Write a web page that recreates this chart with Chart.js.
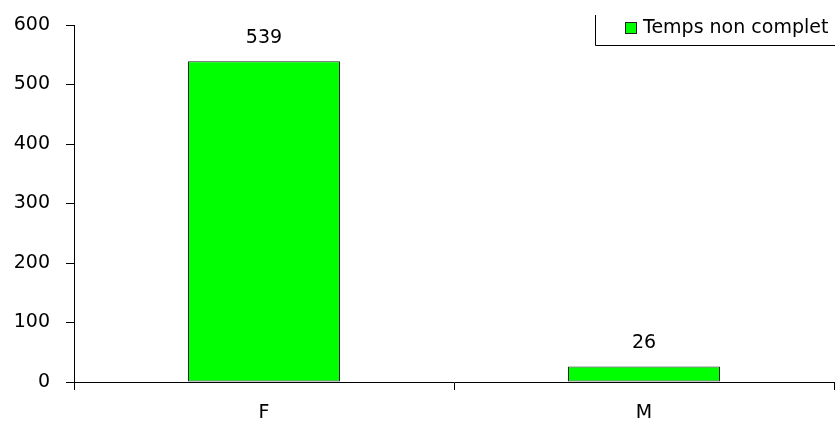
<!DOCTYPE html>
<html>
<head>
<meta charset="utf-8">
<script src="https://cdn.jsdelivr.net/npm/chart.js@4"></script>
<style>
  body { margin: 0; background: #fff; }
  canvas { display: block; }
</style>
</head>
<body>
<canvas id="chart" width="835" height="421"></canvas>
<script>
const categories = ["F", "M"];
const seriesName = "Temps non complet";
const seriesValues = [539, 26];
const yTicks = [0, 100, 200, 300, 400, 500, 600];

const fontFamily = "'DejaVu Sans', Verdana, sans-serif";

// value labels above each bar
const valueLabels = {
    id: "valueLabels",
    afterDatasetsDraw(chart) {
        const ctx = chart.ctx;
        const meta = chart.getDatasetMeta(0);
        ctx.save();
        ctx.fillStyle = "#000";
        ctx.font = "19px " + fontFamily;
        ctx.textAlign = "center";
        ctx.textBaseline = "middle";
        meta.data.forEach((bar, i) => {
            ctx.fillText(String(seriesValues[i]), bar.x, bar.y - 23);
        });
        ctx.restore();
    }
};

// legend box, clipped at the top right like the original
const boxLegend = {
    id: "boxLegend",
    afterDraw(chart) {
        const ctx = chart.ctx;
        const ds = chart.data.datasets[0];
        ctx.save();
        ctx.strokeStyle = "#000";
        ctx.lineWidth = 1;
        ctx.beginPath();
        ctx.moveTo(595.5, 15);
        ctx.lineTo(595.5, 45.5);
        ctx.lineTo(835, 45.5);
        ctx.stroke();
        ctx.fillStyle = ds.backgroundColor;
        ctx.fillRect(625, 22, 11, 11);
        ctx.strokeStyle = "#222";
        ctx.strokeRect(625.5, 22.5, 11, 11);
        ctx.fillStyle = "#000";
        ctx.font = "19px " + fontFamily;
        ctx.textAlign = "left";
        ctx.textBaseline = "middle";
        ctx.fillText(ds.label, 643, 28);
        ctx.restore();
    }
};

new Chart(document.getElementById("chart"), {
    type: "bar",
    data: {
        labels: categories,
        datasets: [{
            label: seriesName,
            data: seriesValues,
            backgroundColor: "#00ff00",
            borderColor: "#222",
            borderWidth: 1,
            borderSkipped: false,
            categoryPercentage: 0.4,
            barPercentage: 1
        }]
    },
    options: {
        responsive: false,
        animation: false,
        layout: { padding: { top: 25, right: 1, left: 0, bottom: 0 } },
        plugins: {
            legend: { display: false },
            tooltip: { enabled: false }
        },
        scales: {
            x: {
                afterFit: s => { s.height = 39; s.paddingLeft = 0; s.paddingRight = 0; },
                border: { color: "#000", width: 1 },
                grid: { drawOnChartArea: false, drawTicks: true, tickLength: 8, color: "#000", offset: true },
                ticks: { color: "#000", font: { family: fontFamily, size: 19 }, padding: 12 }
            },
            y: {
                min: 0,
                max: 600,
                afterFit: s => { s.width = 74; s.paddingTop = 0; s.paddingBottom = 0; },
                afterBuildTicks: s => { s.ticks = yTicks.map(v => ({ value: v })); },
                border: { color: "#000", width: 1 },
                grid: { drawOnChartArea: false, drawTicks: true, tickLength: 8, color: "#000" },
                ticks: { color: "#000", font: { family: fontFamily, size: 19 }, padding: 16 }
            }
        }
    },
    plugins: [valueLabels, boxLegend]
});
</script>
</body>
</html>
